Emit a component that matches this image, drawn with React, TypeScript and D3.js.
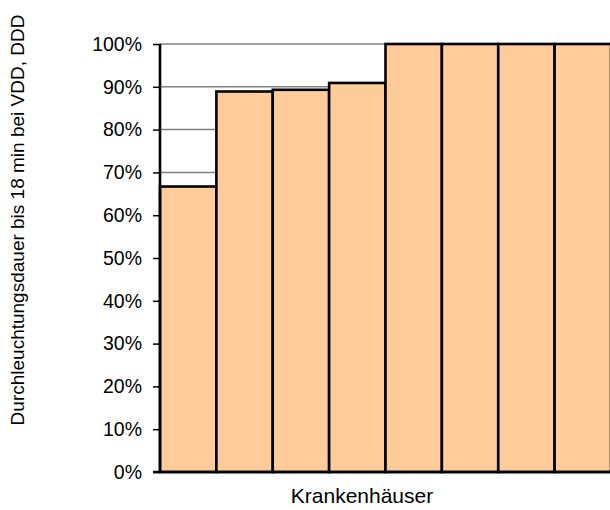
import { useEffect, useRef } from 'react';
import * as d3 from 'd3';

const width = 610;
const height = 510;

// one bar per hospital, share of fluoroscopy time up to 18 min
const hospitals = ['KH1', 'KH2', 'KH3', 'KH4', 'KH5', 'KH6', 'KH7', 'KH8'];
const shares = [0.667, 0.889, 0.893, 0.909, 1.0, 1.0, 1.0, 1.0];
const yTicks = [0, 0.1, 0.2, 0.3, 0.4, 0.5, 0.6, 0.7, 0.8, 0.9, 1.0];

const xLabel = 'Krankenhäuser';
const yLabel = 'Durchleuchtungsdauer bis 18 min bei VDD, DDD';

// plot ends just past the right edge of the picture, as in the original
const margin = { top: 44, right: -1, bottom: 38, left: 160 };

const App = () => {
  const ref = useRef<SVGSVGElement>(null);

  useEffect(() => {
    const svg = d3.select(ref.current);
    svg.selectAll('*').remove();

    const x = d3
      .scaleBand()
      .domain(hospitals)
      .range([margin.left, width - margin.right])
      .padding(0);
    const y = d3
      .scaleLinear()
      .domain([0, 1])
      .range([height - margin.bottom, margin.top]);

    const font = 'Arial, "Liberation Sans", sans-serif';

    // gridlines (behind the bars)
    svg
      .append('g')
      .selectAll('line')
      .data(yTicks.filter((t) => t > 0))
      .join('line')
      .attr('x1', margin.left)
      .attr('x2', width)
      .attr('y1', (d) => y(d))
      .attr('y2', (d) => y(d))
      .attr('stroke', '#808080')
      .attr('stroke-width', 1.5);

    // bars
    svg
      .append('g')
      .selectAll('rect')
      .data(shares)
      .join('rect')
      .attr('x', (d, i) => x(hospitals[i]) as number)
      .attr('y', (d) => y(d))
      .attr('width', x.bandwidth())
      .attr('height', (d) => y(0) - y(d))
      .attr('fill', '#FFCC99')
      .attr('stroke', '#000')
      .attr('stroke-width', 2.6);

    // y axis
    const yAxis = svg
      .append('g')
      .attr('transform', `translate(${margin.left}, 0)`)
      .call(
        d3
          .axisLeft(y)
          .tickValues(yTicks)
          .tickFormat(d3.format('.0%'))
          .tickSize(7)
          .tickPadding(11)
      );
    yAxis.select('.domain').attr('stroke', '#000').attr('stroke-width', 2.6).attr('d', `M0,${y(1)}V${y(0)}`);
    yAxis.selectAll('.tick line').attr('stroke', '#000').attr('stroke-width', 1.5);
    yAxis
      .selectAll('.tick text')
      .attr('fill', '#000')
      .style('font-family', font)
      .style('font-size', '19.5px');

    // x axis line
    svg
      .append('line')
      .attr('x1', margin.left - 7)
      .attr('x2', width)
      .attr('y1', y(0))
      .attr('y2', y(0))
      .attr('stroke', '#000')
      .attr('stroke-width', 2.6);

    // axis titles
    svg
      .append('text')
      .attr('x', 362)
      .attr('y', 503)
      .attr('text-anchor', 'middle')
      .style('font-family', font)
      .style('font-size', '21px')
      .text(xLabel);

    svg
      .append('text')
      .attr('transform', `translate(24, 220) rotate(-90)`)
      .attr('text-anchor', 'middle')
      .style('font-family', font)
      .style('font-size', '19px')
      .text(yLabel);
  }, []);

  return (
    <svg
      ref={ref}
      width={width}
      height={height}
      style={{ position: 'absolute', left: 0, top: 0, background: '#fff' }}
    />
  );
};

export default App;
